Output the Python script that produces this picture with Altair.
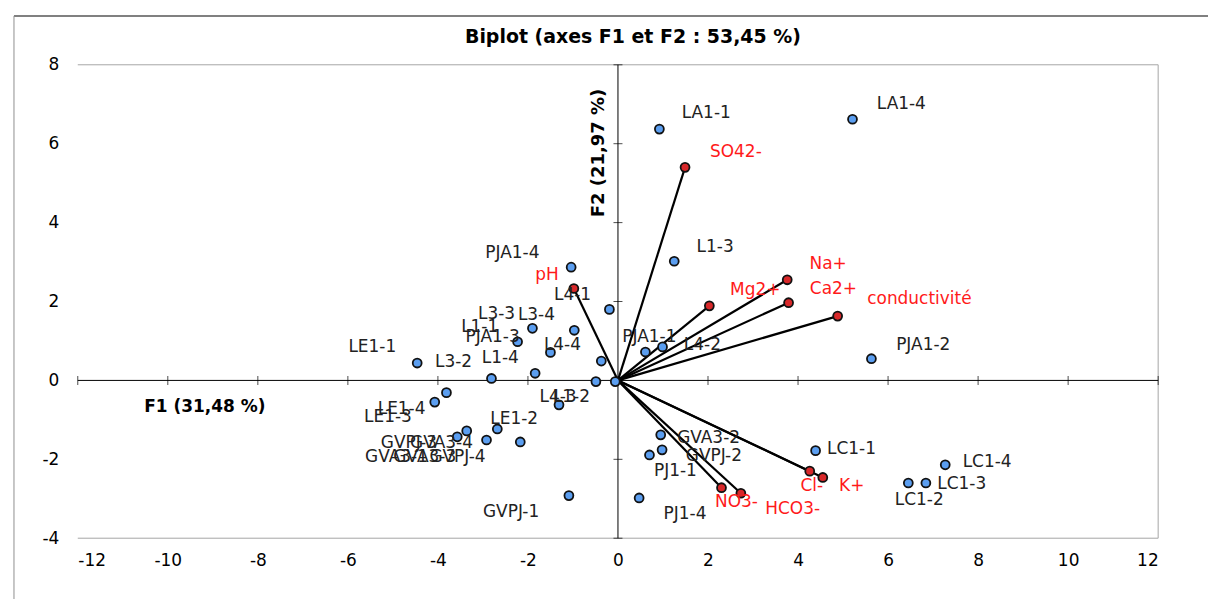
import altair as alt
import pandas as pd

# ---------------- data ----------------
obs_names = ["LA1-1", "LA1-4", "L1-3", "PJA1-2", "PJA1-1", "L4-2", "PJA1-4", "L4-1",
             "L3-4", "L3-3", "L1-1", "PJA1-3", "L4-4", "L1-4", "L3-2", "LE1-1",
             "L4-3", "L1-2", "LE1-2", "LE1-4", "LE1-3", "GVPJ-3", "GVA3-4", "GVA3-1",
             "GVA3-3", "GVPJ-4", "GVPJ-1", "PJ1-4", "PJ1-1", "GVPJ-2", "GVA3-2",
             "LC1-1", "LC1-2", "LC1-3", "LC1-4"]
obs_f1 = [0.92, 5.21, 1.25, 5.63, 0.61, 0.99, -1.04, -0.19,
          -0.97, -1.90, -2.23, -1.50, -0.37, -1.84, -2.81, -4.46,
          -0.49, -0.06, -1.31, -3.81, -4.07, -3.36, -2.68, -3.57,
          -2.92, -2.17, -1.09, 0.47, 0.70, 0.98, 0.95,
          4.39, 6.45, 6.84, 7.27]
obs_f2 = [6.37, 6.62, 3.02, 0.55, 0.72, 0.85, 2.87, 1.80,
          1.27, 1.32, 0.98, 0.71, 0.49, 0.18, 0.05, 0.44,
          -0.03, -0.03, -0.62, -0.31, -0.55, -1.28, -1.23, -1.43,
          -1.51, -1.56, -2.92, -2.98, -1.89, -1.76, -1.38,
          -1.78, -2.60, -2.60, -2.14]

var_names = ["SO42-", "pH", "Na+", "Mg2+", "Ca2+", "conductivité",
             "Cl-", "K+", "NO3-", "HCO3-"]
var_f1 = [1.49, -0.98, 3.76, 2.03, 3.79, 4.88, 4.26, 4.55, 2.30, 2.73]
var_f2 = [5.40, 2.33, 2.55, 1.89, 1.97, 1.63, -2.30, -2.46, -2.72, -2.86]

x_ticks = [-12, -10, -8, -6, -4, -2, 0, 2, 4, 6, 8, 10, 12]
y_ticks = [-4, -2, 0, 2, 4, 6, 8]

# ---------------- layout: label offsets in pixels ----------------
obs_label_dx = [47, 49, 41, 52, 4, 40, -59, -37,
                -38, -36, -38, -58, -39, -35, -38, -45,
                -38, -44, -45, -45, -47, -58, -56, -61,
                -62, -63, -58, 46, 26, 52, 48,
                36, 11, 36, 42]
obs_label_dy = [-16, -15, -14, -14, -15, -2, -14, -14,
                -15, -14, -15, -15, -16, -15, -16, -16,
                15, 15, 14, 16, 15, 12, 14, 20,
                17, 15, 16, 16, 16, 6, 3,
                -2, 17, 1, -3]
var_label_dx = [51, -27, 41, 46, 45, 82, 2, 29, 15, 52]
var_label_dy = [-15, -14, -16, -16, -14, -17, 15, 9, 14, 16]

W, H = 1084, 475
X_DOM = [x_ticks[0], x_ticks[-1]]
Y_DOM = [y_ticks[0], y_ticks[-1]]
px_x = W / (X_DOM[1] - X_DOM[0])
px_y = H / (Y_DOM[1] - Y_DOM[0])

obs = pd.DataFrame({"name": obs_names, "f1": obs_f1, "f2": obs_f2})
obs["lx"] = obs["f1"] + pd.Series(obs_label_dx) / px_x
obs["ly"] = obs["f2"] - pd.Series(obs_label_dy) / px_y
var = pd.DataFrame({"name": var_names, "f1": var_f1, "f2": var_f2})
var["lx"] = var["f1"] + pd.Series(var_label_dx) / px_x
var["ly"] = var["f2"] - pd.Series(var_label_dy) / px_y
var["o1"] = 0.0
var["o2"] = 0.0

FONT = "DejaVu Sans"
XS = alt.Scale(domain=X_DOM, nice=False, zero=False)
YS = alt.Scale(domain=Y_DOM, nice=False, zero=False)

xaxis = alt.Axis(values=x_ticks, grid=False, ticks=False, tickSize=0, domain=False,
                 labelExpr="datum.value + ''",
                 labelFontSize=17, labelFont=FONT, labelColor="#000", labelPadding=14,
                 title="F1 (31,48 %)", titleFont=FONT, titleFontSize=17, titleFontWeight="bold",
                 titleColor="#000", titleX=127, titleY=-132, titleAlign="center",
                 titleBaseline="middle", titleAngle=0)
yaxis = alt.Axis(values=y_ticks, grid=False, ticks=False, tickSize=0, domain=False,
                 labelExpr="datum.value + ''",
                 labelFontSize=17, labelFont=FONT, labelColor="#000", labelPadding=19,
                 title="F2 (21,97 %)", titleFont=FONT, titleFontSize=18, titleFontWeight="bold",
                 titleColor="#000", titleX=522, titleY=88, titleAlign="center",
                 titleBaseline="middle", titleAngle=270)


def X(f):
    return alt.X(f, type="quantitative", scale=XS, axis=xaxis)


def Y(f):
    return alt.Y(f, type="quantitative", scale=YS, axis=yaxis)


GREY = "#a6a6a6"
frame_h = alt.Chart(pd.DataFrame({"f2": [y_ticks[-1], y_ticks[0]]})).mark_rule(
    color=GREY, strokeWidth=1).encode(y=Y("f2"))
frame_v = alt.Chart(pd.DataFrame({"f1": [x_ticks[-1]]})).mark_rule(
    color=GREY, strokeWidth=1).encode(x=X("f1"))

zero_h = alt.Chart(pd.DataFrame({"f2": [0]})).mark_rule(
    color="black", strokeWidth=1).encode(y=Y("f2"))
zero_v = alt.Chart(pd.DataFrame({"f1": [0]})).mark_rule(
    color="black", strokeWidth=1).encode(x=X("f1"))

ticks_x = alt.Chart(pd.DataFrame({"f1": x_ticks, "f2": [0] * len(x_ticks)})).mark_tick(
    orient="vertical", size=9, thickness=1, color="black").encode(x=X("f1"), y=Y("f2"))
ticks_y = alt.Chart(pd.DataFrame({"f2": y_ticks, "f1": [0] * len(y_ticks)})).mark_tick(
    orient="horizontal", size=9, thickness=1, color="black").encode(x=X("f1"), y=Y("f2"))

# outer chart-area border (Excel chart frame)
border_top = alt.Chart(pd.DataFrame({"a": [0]})).mark_rule(color="#808080", strokeWidth=2).encode(
    x=alt.value(-64), x2=alt.value(1140), y=alt.value(-49))
border_left = alt.Chart(pd.DataFrame({"a": [0]})).mark_rule(color="#909090", strokeWidth=1).encode(
    x=alt.value(-64), y=alt.value(-49), y2=alt.value(560))

title = alt.Chart(pd.DataFrame({"t": ["Biplot (axes F1 et F2 : 53,45 %)"]})).mark_text(
    font=FONT, fontSize=19, fontWeight="bold", color="#000", align="center",
    baseline="middle").encode(text="t:N", x=alt.value(557), y=alt.value(-28))

arrows = alt.Chart(var).mark_rule(color="black", strokeWidth=2.2).encode(
    x=X("o1"), y=Y("o2"), x2="f1", y2="f2")

var_dots = alt.Chart(var).mark_circle(size=80, color="#d8282a", stroke="#111",
                                      strokeWidth=1.8, opacity=1).encode(x=X("f1"), y=Y("f2"))
obs_dots = alt.Chart(obs).mark_circle(size=80, color="#5b9ef0", stroke="#111",
                                      strokeWidth=1.8, opacity=1).encode(x=X("f1"), y=Y("f2"))

obs_labels = alt.Chart(obs).mark_text(font=FONT, fontSize=17, color="#222",
                                      align="center", baseline="middle").encode(
    x=X("lx"), y=Y("ly"), text="name:N")
var_labels = alt.Chart(var).mark_text(font=FONT, fontSize=17, color="#ff1a1a",
                                      align="center", baseline="middle").encode(
    x=X("lx"), y=Y("ly"), text="name:N")

chart = alt.layer(
    frame_h, frame_v, zero_h, zero_v, ticks_x, ticks_y, border_top, border_left, title,
    arrows, var_dots, obs_dots, obs_labels, var_labels
).properties(
    width=W, height=H,
    autosize=alt.AutoSizeParams(type="none"),
    padding={"left": 70, "top": 56, "right": 50, "bottom": 60},
).configure(font=FONT, background="white").configure_view(stroke=None)

chart.save("out.html", embed_options={"renderer": "svg", "actions": False})
